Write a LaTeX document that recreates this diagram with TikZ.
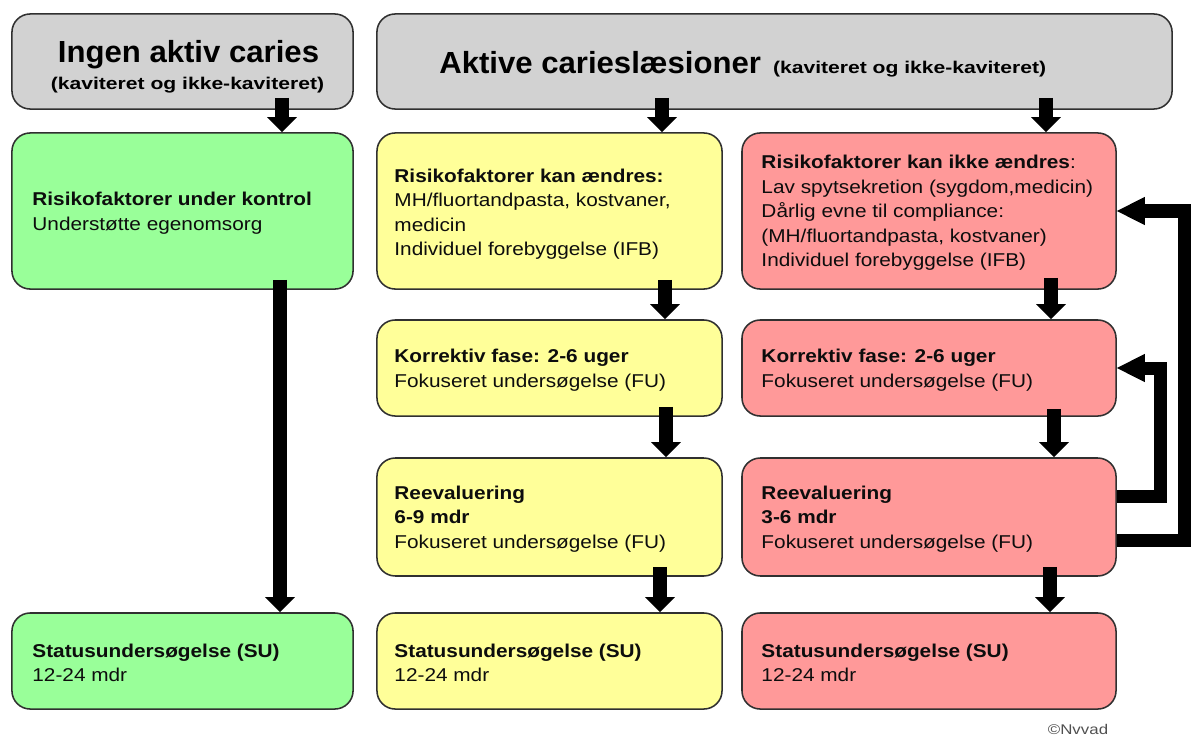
\documentclass[tikz,border=0pt]{standalone}
\usepackage{fontspec}
\usetikzlibrary{arrows.meta,calc}
\newfontfamily\bodyf[FakeStretch=1.12]{Liberation Sans}
\newfontfamily\titlef[FakeStretch=1.02]{Liberation Sans}
\newfontfamily\subf[FakeStretch=1.24]{Liberation Sans}
\newfontfamily\copyf[FakeStretch=1.2]{Liberation Sans}
\definecolor{boxgray}{HTML}{D2D2D2}
\definecolor{boxgreen}{HTML}{99FF99}
\definecolor{boxyellow}{HTML}{FFFF99}
\definecolor{boxred}{HTML}{FF9999}
\definecolor{edge}{HTML}{303030}
\definecolor{copyc}{HTML}{505050}
\begin{document}
\begin{tikzpicture}[x=0.025cm,y=-0.025cm,
  box/.style={draw=edge, line width=1.1pt, rounded corners=13pt, inner sep=0pt},
  colA/.style={minimum width=242.6pt},
  colB/.style={minimum width=245.4pt},
  colC/.style={minimum width=266.0pt},
  row1/.style={minimum height=111.0pt},
  row2/.style={minimum height=68.3pt},
  row3/.style={minimum height=83.9pt},
  row4/.style={minimum height=68.3pt},
  txt/.style={anchor=west, align=left, inner sep=0pt, text=black!95, font=\bodyf\fontsize{13.2}{17.4}\selectfont},
  bigtitle/.style={anchor=base, inner sep=0pt, font=\titlef\bfseries\fontsize{21.7}{26}\selectfont},
  subtitle/.style={anchor=base, inner sep=0pt, font=\subf\bfseries\fontsize{12.1}{14}\selectfont},
  darrow/.style={line width=9.9pt, -{Triangle[length=10.7pt,width=21.3pt,line width=0pt]}},
  farrow/.style={line width=9.25pt, line join=miter, -{Triangle[length=19.9pt,width=20pt,line width=0pt]}},
]
\useasboundingbox (0,0) rectangle (1192,737);

% header boxes
\node[box, fill=boxgray, colA, minimum height=67.6pt] (g0) at (182.5,61.5) {};
\node[box, fill=boxgray, minimum width=565.5pt, minimum height=67.6pt] (h0) at (774.5,61.5) {};

% green column
\node[box, fill=boxgreen, colA, row1] (g1) at (182.5,211) {};
\node[box, fill=boxgreen, colA, row4] (g4) at (182.5,661) {};

% yellow column
\node[box, fill=boxyellow, colB, row1] (y1) at (549.5,211) {};
\node[box, fill=boxyellow, colB, row2] (y2) at (549.5,368) {};
\node[box, fill=boxyellow, colB, row3] (y3) at (549.5,517) {};
\node[box, fill=boxyellow, colB, row4] (y4) at (549.5,661) {};

% red column
\node[box, fill=boxred, colC, row1] (r1) at (929,211) {};
\node[box, fill=boxred, colC, row2] (r2) at (929,368) {};
\node[box, fill=boxred, colC, row3] (r3) at (929,517) {};
\node[box, fill=boxred, colC, row4] (r4) at (929,661) {};

% titles
\node[bigtitle] (t0) at (188.5,62) {Ingen aktiv caries};
\node[subtitle] (s0) at (187.5,89) {(kaviteret og ikke-kaviteret)};
\node[anchor=base west, inner sep=0pt] (t1) at (439,73) {{\titlef\bfseries\fontsize{21.7}{26}\selectfont Aktive carieslæsioner}\hspace{8.5pt}{\subf\bfseries\fontsize{12.1}{14}\selectfont (kaviteret og ikke-kaviteret)}};

% texts
\node[txt] (g1t) at ($(g1.west)+(21,2)$) {\textbf{Risikofaktorer under kontrol}\\Understøtte egenomsorg};
\node[txt] (g4t) at ($(g4.west)+(21,2)$) {\textbf{Statusundersøgelse (SU)}\\12-24 mdr};

\node[txt] (y1t) at ($(y1.west)+(18,3)$) {\textbf{Risikofaktorer kan ændres:}\\MH/fluortandpasta, kostvaner,\\medicin\\Individuel forebyggelse (IFB)};
\node[txt] (y2t) at ($(y2.west)+(18,2)$) {\textbf{Korrektiv fase: 2-6 uger}\\Fokuseret undersøgelse (FU)};
\node[txt] (y3t) at ($(y3.west)+(18,2)$) {\textbf{Reevaluering}\\\textbf{6-9 mdr}\\Fokuseret undersøgelse (FU)};
\node[txt] (y4t) at ($(y4.west)+(18,2)$) {\textbf{Statusundersøgelse (SU)}\\12-24 mdr};

\node[txt] (r1t) at ($(r1.west)+(20,2)$) {\textbf{Risikofaktorer kan ikke ændres}:\\Lav spytsekretion (sygdom,medicin)\\Dårlig evne til compliance:\\(MH/fluortandpasta, kostvaner)\\Individuel forebyggelse (IFB)};
\node[txt] (r2t) at ($(r2.west)+(20,2)$) {\textbf{Korrektiv fase: 2-6 uger}\\Fokuseret undersøgelse (FU)};
\node[txt] (r3t) at ($(r3.west)+(20,2)$) {\textbf{Reevaluering}\\\textbf{3-6 mdr}\\Fokuseret undersøgelse (FU)};
\node[txt] (r4t) at ($(r4.west)+(20,2)$) {\textbf{Statusundersøgelse (SU)}\\12-24 mdr};

% down arrows
\draw[darrow] ($(g0.south)+(99.5,-12)$) coordinate (a1) -- (a1 |- g1.north);
\draw[darrow] ($(h0.south)+(-112.5,-12)$) coordinate (a2) -- (a2 |- y1.north);
\draw[darrow] ($(h0.south)+(271.5,-12)$) coordinate (a3) -- (a3 |- r1.north);
\draw[darrow] ($(g1.south)+(97.5,-10)$) coordinate (a4) -- (a4 |- g4.north);
\draw[darrow] ($(y1.south)+(115.5,-10)$) coordinate (a5) -- (a5 |- y2.north);
\draw[darrow] ($(y2.south)+(116.5,-10)$) coordinate (a6) -- (a6 |- y3.north);
\draw[darrow] ($(y3.south)+(110.5,-10)$) coordinate (a7) -- (a7 |- y4.north);
\draw[darrow] ($(r1.south)+(122,-12)$) coordinate (a8) -- (a8 |- r2.north);
\draw[darrow] ($(r2.south)+(125,-8)$) coordinate (a9) -- (a9 |- r3.north);
\draw[darrow] ($(r3.south)+(121,-10)$) coordinate (a10) -- (a10 |- r4.north);

% feedback arrows
\draw[farrow] ($(r3.east)+(0,-21)$) coordinate (f1) -- ++(44,0) |- (r2.east);
\draw[farrow] ($(r3.east)+(0,23)$) coordinate (f2) -- ++(68,0) |- (r1.east);

% copyright
\node[inner sep=0pt, text=copyc, font=\copyf\fontsize{10}{12}\selectfont] (copy) at (1078,729) {©Nvvad};
\end{tikzpicture}
\end{document}
